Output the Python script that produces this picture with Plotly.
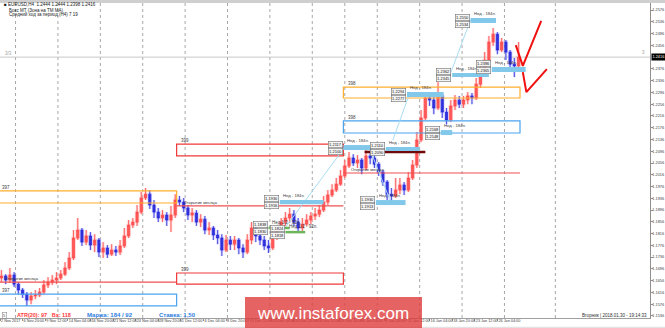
import plotly.graph_objects as go

FONT = "Liberation Sans, Arial, sans-serif"

# ---------------- data (EURUSD H4, one plotted candle = 3 H4 bars) ----------------
first_open = 1.1665
close = [1.1672, 1.1658, 1.1675, 1.1644, 1.1624, 1.1610, 1.1590, 1.1604, 1.1607, 1.1617,
         1.1641, 1.1651, 1.1658, 1.1665, 1.1678, 1.1699, 1.1733, 1.1801, 1.1828, 1.1787,
         1.1808, 1.1777, 1.1794, 1.1753, 1.1767, 1.1746, 1.1760, 1.1753, 1.1774, 1.1808,
         1.1845, 1.1855, 1.1889, 1.1937, 1.1950, 1.1913, 1.1889, 1.1869, 1.1879, 1.1862,
         1.1879, 1.1930, 1.1923, 1.1903, 1.1879, 1.1886, 1.1855, 1.1865, 1.1828, 1.1835,
         1.1811, 1.1801, 1.1760, 1.1794, 1.1780, 1.1794, 1.1767, 1.1753, 1.1794, 1.1835,
         1.1808, 1.1794, 1.1774, 1.1767, 1.1808, 1.1828, 1.1855, 1.1869, 1.1882, 1.1855,
         1.1835, 1.1848, 1.1862, 1.1876, 1.1882, 1.1896, 1.1923, 1.1947, 1.1964, 1.1984,
         1.2012, 1.2046, 1.2073, 1.2056, 1.2066, 1.2039, 1.2080, 1.2073, 1.2052, 1.2025,
         1.1991, 1.1950, 1.1944, 1.1964, 1.1981, 1.1964, 1.2005, 1.2049, 1.2134, 1.2209,
         1.2277, 1.2270, 1.2243, 1.2284, 1.2229, 1.2202, 1.2250, 1.2270, 1.2256, 1.2270,
         1.2284, 1.2277, 1.2324, 1.2365, 1.2406, 1.2467, 1.2494, 1.2440, 1.2467, 1.2433,
         1.2392, 1.2386, 1.2416]
high = [1.1692, 1.1678, 1.1699, 1.1685, 1.1651, 1.1631, 1.1617, 1.1617, 1.1624, 1.1631,
        1.1658, 1.1668, 1.1675, 1.1685, 1.1692, 1.1719, 1.1753, 1.1828, 1.1869, 1.1835,
        1.1828, 1.1821, 1.1814, 1.1801, 1.1787, 1.1777, 1.1780, 1.1774, 1.1794, 1.1835,
        1.1862, 1.1869, 1.1913, 1.1957, 1.1971, 1.1964, 1.1930, 1.1903, 1.1896, 1.1889,
        1.1910, 1.1950, 1.1944, 1.1937, 1.1913, 1.1903, 1.1896, 1.1882, 1.1876, 1.1855,
        1.1842, 1.1828, 1.1814, 1.1811, 1.1808, 1.1808, 1.1801, 1.1780, 1.1814, 1.1855,
        1.1842, 1.1821, 1.1808, 1.1794, 1.1828, 1.1842, 1.1869, 1.1889, 1.1903, 1.1896,
        1.1869, 1.1869, 1.1882, 1.1889, 1.1903, 1.1913, 1.1944, 1.1964, 1.1984, 1.2005,
        1.2032, 1.2066, 1.2093, 1.2086, 1.2083, 1.2073, 1.2100, 1.2093, 1.2083, 1.2059,
        1.2032, 1.1998, 1.1971, 1.2005, 1.2005, 1.1991, 1.2025, 1.2066, 1.2161, 1.2236,
        1.2297, 1.2294, 1.2284, 1.2331, 1.2290, 1.2243, 1.2270, 1.2287, 1.2284, 1.2284,
        1.2297, 1.2294, 1.2345, 1.2386, 1.2433, 1.2488, 1.2515, 1.2501, 1.2481, 1.2474,
        1.2440, 1.2413, 1.2467]
low = [1.1651, 1.1644, 1.1648, 1.1634, 1.1610, 1.1597, 1.1570, 1.1576, 1.1593, 1.1600,
       1.1610, 1.1631, 1.1641, 1.1644, 1.1658, 1.1672, 1.1692, 1.1726, 1.1794, 1.1774,
       1.1777, 1.1760, 1.1753, 1.1736, 1.1733, 1.1733, 1.1740, 1.1740, 1.1743, 1.1767,
       1.1801, 1.1835, 1.1842, 1.1882, 1.1930, 1.1900, 1.1869, 1.1855, 1.1855, 1.1842,
       1.1821, 1.1869, 1.1910, 1.1889, 1.1862, 1.1855, 1.1842, 1.1838, 1.1814, 1.1811,
       1.1794, 1.1780, 1.1740, 1.1753, 1.1760, 1.1760, 1.1746, 1.1733, 1.1746, 1.1780,
       1.1787, 1.1777, 1.1760, 1.1750, 1.1760, 1.1794, 1.1821, 1.1842, 1.1855, 1.1842,
       1.1821, 1.1821, 1.1842, 1.1848, 1.1862, 1.1872, 1.1889, 1.1913, 1.1940, 1.1957,
       1.1978, 1.2005, 1.2039, 1.2046, 1.2039, 1.2018, 1.2032, 1.2052, 1.2039, 1.2012,
       1.1978, 1.1930, 1.1927, 1.1937, 1.1950, 1.1947, 1.1957, 1.1998, 1.2039, 1.2127,
       1.2202, 1.2250, 1.2222, 1.2236, 1.2209, 1.2188, 1.2195, 1.2236, 1.2243, 1.2243,
       1.2256, 1.2256, 1.2270, 1.2311, 1.2358, 1.2399, 1.2454, 1.2426, 1.2433, 1.2406,
       1.2372, 1.2348, 1.2379]
bars_per_candle = 3

# time axis (H4 bar index)
tick_idx = [0, 16, 32, 48, 64, 80, 96, 112, 128, 144, 160, 176, 192, 208, 224, 240,
            256, 272, 288, 304, 320, 336, 352]
tick_text = ["2 Nov 2017", "6 Nov 20:00", "9 Nov 12:00", "14 Nov 04:00", "16 Nov 20:00",
             "21 Nov 12:00", "24 Nov 04:00", "28 Nov 20:00", "1 Dec 12:00", "6 Dec 04:00",
             "8 Dec 20:00", "13 Dec 12:00", "18 Dec 04:00", "20 Dec 20:00", "26 Dec 12:00",
             "29 Dec 04:00", "4 Jan 04:00", "8 Jan 20:00", "11 Jan 12:00", "16 Jan 04:00",
             "18 Jan 20:00", "23 Jan 12:00", "26 Jan 04:00"]
week_separators = [11, 41, 71, 101, 131, 161, 191, 221, 244, 267, 297, 327, 357, 393]
x_range = [0, 460]
y_range = [1.1529, 1.2600]
price_ticks = [1.2576, 1.2536, 1.2496, 1.2456, 1.2376, 1.2336, 1.2296, 1.2256, 1.2216,
               1.2176, 1.2136, 1.2096, 1.2056, 1.2016, 1.1976, 1.1936, 1.1896, 1.1856,
               1.1816, 1.1776, 1.1736, 1.1696, 1.1656, 1.1616, 1.1576, 1.1536]
current_price = 1.2416

# zones (outlined boxes)
zone_x0 = [-2, -2, 125, 125, 243, 243]
zone_x1 = [125, 125, 243, 243, 368, 368]
zone_lo = [1.1920, 1.1570, 1.1644, 1.2080, 1.2277, 1.2158]
zone_hi = [1.1961, 1.1610, 1.1682, 1.2120, 1.2314, 1.2199]
zone_color = ["#ffae2e", "#4aa3ef", "#f03838", "#f03838", "#ffae2e", "#4aa3ef"]
zone_label = ["397", "397", "399", "399", "398", "398"]

# month-open lines
mo_x0 = [-2, 125, 243]
mo_x1 = [125, 243, 368]
mo_y = [1.1651, 1.1910, 1.2022]
mo_text = "Открытие месяца"

# dark level
dark_x = [258, 301]
dark_y = 1.2093

# weekly target bars
tb_x0 = [333, 320, 348, 288, 312, 243, 273, 266, 198]
tb_x1 = [351, 346, 372, 314, 320, 264, 297, 287, 229]
tb_lo = [1.2532, 1.2348, 1.2365, 1.2280, 1.2151, 1.2100, 1.2097, 1.1913, 1.1916]
tb_hi = [1.2549, 1.2362, 1.2382, 1.2297, 1.2168, 1.2117, 1.2110, 1.1930, 1.1930]
tb_top_txt = ["1.2550", "1.2362", "1.2386", "1.2294", "1.2168", "1.2117", "1.2110", "1.1930", "1.1930"]
tb_bot_txt = ["1.2534", "1.2345", "1.2365", "1.2277", "1.2148", "1.2100", "1.2090", "1.1913", "1.1916"]
tb_text = "Нед - 184п."

# half-week targets (green)
g_x0 = [190, 202]
g_x1 = [205, 216]
g_y = [1.1835, 1.1821]
g_top_txt = ["1.1838", "1.1824"]
g_bot_txt = ["1.1830", "1.1818"]
g_text = "Нед 1/2 - 92п."

# thin connector lines
conn_x0 = [198, 262, 278, 317]
conn_y0 = [1.1811, 1.2100, 1.2134, 1.2338]
conn_x1 = [244, 276, 290, 333]
conn_y1 = [1.2110, 1.1930, 1.2294, 1.2542]

# red forecast marks
arrow1_x = [365, 370, 383]
arrow1_y = [1.2457, 1.2386, 1.2539]
arrow2_x = [370, 372.5, 387]
arrow2_y = [1.2365, 1.2297, 1.2375]

# ---------------- figure ----------------
x = [bars_per_candle * i + 1 for i in range(len(close))]
opens = [first_open] + close[:-1]

fig = go.Figure()
fig.add_trace(go.Candlestick(
    x=x, open=opens, high=high, low=low, close=close, whiskerwidth=0,
    increasing=dict(line=dict(color="rgba(255,160,160,0.45)", width=2.5), fillcolor="rgba(255,160,160,0.45)"),
    decreasing=dict(line=dict(color="rgba(160,160,255,0.45)", width=2.5), fillcolor="rgba(160,160,255,0.45)"),
    hoverinfo="skip", showlegend=False))
fig.add_trace(go.Candlestick(
    x=x, open=opens, high=high, low=low, close=close, whiskerwidth=0,
    increasing=dict(line=dict(color="#ff4a4a", width=0.8), fillcolor="#ff5a5a"),
    decreasing=dict(line=dict(color="#2a2ad8", width=0.8), fillcolor="#3333dd"),
    hoverinfo="skip", showlegend=False))

shapes = []
annos = []
small = dict(family=FONT, size=4.5, color="#404040")


def px(v):
    return v / 650.0


def py(v):
    return (318.0 - v) / 315.0


# week separators
for s in week_separators:
    shapes.append(dict(type="line", xref="x", yref="paper", x0=s, x1=s, y0=0, y1=1,
                       line=dict(color="#a8a8a8", width=1, dash="dot"), layer="below"))

# current price line
shapes.append(dict(type="line", xref="paper", yref="y", x0=0, x1=1, y0=current_price, y1=current_price,
                   line=dict(color="#c8c8c8", width=1), layer="below"))

# zones
for i in range(len(zone_x0)):
    shapes.append(dict(type="rect", xref="x", yref="y", x0=zone_x0[i], x1=zone_x1[i],
                       y0=zone_lo[i], y1=zone_hi[i], line=dict(color=zone_color[i], width=1.2)))
    annos.append(dict(x=zone_x0[i] + 2, y=zone_hi[i], xref="x", yref="y", text=zone_label[i],
                      showarrow=False, xanchor="left", yanchor="bottom", font=small, yshift=-1))

# month open lines
for i in range(len(mo_x0)):
    shapes.append(dict(type="line", xref="x", yref="y", x0=mo_x0[i], x1=mo_x1[i], y0=mo_y[i], y1=mo_y[i],
                       line=dict(color="#f05050", width=1.2)))
    annos.append(dict(x=mo_x0[i] + 4, y=mo_y[i], xref="x", yref="y", text=mo_text, showarrow=False,
                      xanchor="left", yanchor="bottom", font=dict(family=FONT, size=4, color="#303030"),
                      yshift=-1))

shapes.append(dict(type="line", xref="x", yref="y", x0=dark_x[0], x1=dark_x[1], y0=dark_y, y1=dark_y,
                   line=dict(color="#6e0a0a", width=2.5)))

# connectors
for i in range(len(conn_x0)):
    shapes.append(dict(type="line", xref="x", yref="y", x0=conn_x0[i], x1=conn_x1[i],
                       y0=conn_y0[i], y1=conn_y1[i], line=dict(color="#a9dcf2", width=1)))


def price_boxes(xr, ymid, top, bot, shift=0):
    for txt, anchor in ((top, "bottom"), (bot, "top")):
        annos.append(dict(x=xr, y=ymid, xref="x", yref="y", text=txt, showarrow=False,
                          xanchor="right", yanchor=anchor, yshift=shift,
                          font=dict(family=FONT, size=4, color="#202020"),
                          bgcolor="#f4f4f4", bordercolor="#707070", borderwidth=0.6, borderpad=0.5))


for i in range(len(tb_x0)):
    shapes.append(dict(type="rect", xref="x", yref="y", x0=tb_x0[i], x1=tb_x1[i], y0=tb_lo[i], y1=tb_hi[i],
                       fillcolor="#82c8ea", line=dict(width=0)))
    annos.append(dict(x=tb_x0[i] + 1, y=tb_hi[i], xref="x", yref="y", text=tb_text, showarrow=False,
                      xanchor="left", yanchor="bottom", font=dict(family=FONT, size=4.2, color="#404040")))
    price_boxes(tb_x0[i] - 0.5, (tb_lo[i] + tb_hi[i]) / 2, tb_top_txt[i], tb_bot_txt[i],
                shift=3 if i == 2 else 0)

for i in range(len(g_x0)):
    shapes.append(dict(type="line", xref="x", yref="y", x0=g_x0[i], x1=g_x1[i], y0=g_y[i], y1=g_y[i],
                       line=dict(color="#6db55a", width=2.5)))
    annos.append(dict(x=g_x0[i] + 1, y=g_y[i], xref="x", yref="y", text=g_text, showarrow=False,
                      xanchor="left", yanchor="bottom", font=small, yshift=1))
    price_boxes(g_x0[i] - 0.5, g_y[i], g_top_txt[i], g_bot_txt[i])

# red forecast polylines
for ax_, ay_ in ((arrow1_x, arrow1_y), (arrow2_x, arrow2_y)):
    fig.add_trace(go.Scatter(x=ax_, y=ay_, mode="lines", line=dict(color="#f01010", width=2),
                             hoverinfo="skip", showlegend=False))

# top / bottom strips
shapes.append(dict(type="rect", xref="paper", yref="paper", x0=0, x1=665 / 650, y0=1, y1=1 + 3 / 315,
                   fillcolor="#cfcfcf", line=dict(width=0)))
shapes.append(dict(type="rect", xref="paper", yref="paper", x0=0, x1=665 / 650, y0=py(328.5), y1=py(326.8),
                   fillcolor="#e2e2e2", line=dict(width=0)))

# watermark
shapes.append(dict(type="rect", xref="paper", yref="paper", x0=px(245), x1=px(422), y0=py(329), y1=py(297),
                   fillcolor="rgba(222,60,60,0.80)", line=dict(width=0), layer="above"))
annos.append(dict(x=px(333), y=py(313), xref="paper", yref="paper", text="www.instaforex.com",
                  showarrow=False, xanchor="center", yanchor="middle",
                  font=dict(family=FONT, size=17, color="white")))

# header texts
hdr = dict(family=FONT, size=4.5, color="#202020")
annos.append(dict(x=px(2), y=py(5), xref="paper", yref="paper", text="■ EURUSD,H4  1.2444 1.2444 1.2398 1.2416",
                  showarrow=False, xanchor="left", yanchor="middle", font=hdr))
annos.append(dict(x=px(7), y=py(10), xref="paper", yref="paper", text="Бокс МТ (Зона на ТМ МА)",
                  showarrow=False, xanchor="left", yanchor="middle", font=hdr))
annos.append(dict(x=px(7), y=py(14.5), xref="paper", yref="paper", text="Средний ход за период (Н4) 7 19",
                  showarrow=False, xanchor="left", yanchor="middle", font=hdr))
annos.append(dict(x=px(3), y=py(53), xref="paper", yref="paper", text="3/3", showarrow=False,
                  xanchor="left", yanchor="middle", font=dict(family=FONT, size=4.5, color="#a0a0a0")))
annos.append(dict(x=px(647), y=py(52), xref="paper", yref="paper", text="3", showarrow=False,
                  xanchor="right", yanchor="middle", font=dict(family=FONT, size=4.5, color="#a0a0a0")))

# bottom info
annos.append(dict(x=px(2), y=py(315), xref="paper", yref="paper", text="5", showarrow=False,
                  xanchor="left", yanchor="middle", font=dict(family=FONT, size=4, color="#404040"),
                  bordercolor="#909090", borderwidth=0.6, borderpad=0.5))
annos.append(dict(x=px(15), y=py(315), xref="paper", yref="paper", text="<b>ATR(20): 97   Вх: 118</b>",
                  showarrow=False, xanchor="left", yanchor="middle",
                  font=dict(family=FONT, size=5.5, color="#ff3a3a")))
annos.append(dict(x=px(85), y=py(315), xref="paper", yref="paper", text="<b>Маржа: 184 / 92</b>",
                  showarrow=False, xanchor="left", yanchor="middle",
                  font=dict(family=FONT, size=6, color="#2f7ee0")))
annos.append(dict(x=px(157), y=py(315), xref="paper", yref="paper", text="<b>Ставка: 1,50</b>",
                  showarrow=False, xanchor="left", yanchor="middle",
                  font=dict(family=FONT, size=6, color="#2f7ee0")))
annos.append(dict(x=px(649), y=py(315), xref="paper", yref="paper", text="Вторник | 2018.01.30 - 19:14:33",
                  showarrow=False, xanchor="right", yanchor="middle",
                  font=dict(family=FONT, size=4.5, color="#303030")))

# current price box on axis
annos.append(dict(x=1, y=current_price, xref="paper", yref="y", text=f"{current_price:.4f}", showarrow=False,
                  xanchor="left", yanchor="middle", font=dict(family=FONT, size=3.9, color="white"),
                  bgcolor="#000000", borderpad=0.4, xshift=1))

fig.update_layout(
    width=665, height=328, margin=dict(l=0, r=15, t=3, b=10),
    paper_bgcolor="white", plot_bgcolor="white",
    shapes=shapes, annotations=annos, showlegend=False,
    xaxis=dict(range=x_range, rangeslider=dict(visible=False), tickmode="array", tickvals=tick_idx,
               ticktext=tick_text, ticklabelposition="outside right", ticklabelstandoff=-2, tickangle=0,
               ticks="outside", ticklen=2, tickcolor="#909090",
               tickfont=dict(family=FONT, size=3.8, color="#404040"),
               showgrid=False, zeroline=False, showline=True, linecolor="#a0a0a0", automargin=False),
    yaxis=dict(side="right", range=y_range, tickmode="array", tickvals=price_ticks, tickformat=".4f",
               ticks="outside", ticklen=1.5, tickcolor="#909090", ticklabelstandoff=-1,
               tickfont=dict(family=FONT, size=3.9, color="#404040"),
               showgrid=False, zeroline=False, showline=True, linecolor="#909090", automargin=False),
)

fig.write_html("out.html")
